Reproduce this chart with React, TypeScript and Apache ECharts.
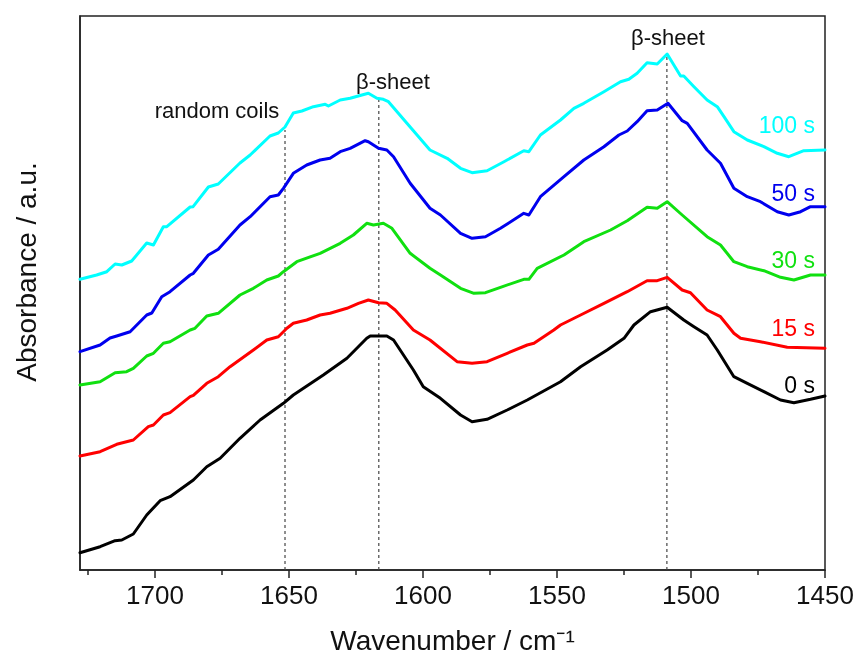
import React, { useEffect, useRef } from "react";
import * as echarts from "echarts";

// Wavenumber (cm^-1) / absorbance (a.u., offset-stacked) pairs
const s0: number[][] = [
  [1728, 0.173], [1720.5, 0.233], [1714.9, 0.293], [1712.4, 0.3], [1708.1, 0.36], [1703.1, 0.55],
  [1698.1, 0.693], [1694.4, 0.733], [1685.7, 0.9], [1680.7, 1.033], [1675.7, 1.117], [1668.3, 1.317],
  [1660.8, 1.5], [1652.1, 1.667], [1648.4, 1.75], [1637.2, 1.95], [1628.4, 2.117], [1621.0, 2.317],
  [1619.7, 2.34], [1613.5, 2.34], [1611.0, 2.3], [1603.6, 2.0], [1599.9, 1.833], [1593.5, 1.717],
  [1586.0, 1.55], [1581.7, 1.483], [1576.1, 1.507], [1568.6, 1.6], [1561.1, 1.7], [1548.7, 1.883],
  [1541.2, 2.033], [1531.3, 2.2], [1525.0, 2.317], [1521.3, 2.45], [1515.1, 2.583], [1508.9, 2.627],
  [1502.7, 2.5], [1498.9, 2.433], [1494.0, 2.35], [1490.2, 2.2], [1484.0, 1.933], [1479.0, 1.867],
  [1472.8, 1.783], [1466.6, 1.7], [1461.6, 1.673], [1455.4, 1.707], [1450, 1.74],
];
const s15: number[][] = [
  [1728, 1.14], [1720.5, 1.183], [1714.3, 1.257], [1708.1, 1.3], [1702.5, 1.433], [1700.6, 1.45],
  [1696.9, 1.55], [1694.4, 1.573], [1686.9, 1.733], [1685.7, 1.747], [1680.7, 1.867], [1676.4, 1.933],
  [1672.0, 2.033], [1663.3, 2.2], [1658.3, 2.3], [1654.0, 2.333], [1652.1, 2.383], [1650.8, 2.417],
  [1648.4, 2.467], [1643.4, 2.5], [1638.4, 2.55], [1634.7, 2.567], [1628.4, 2.617], [1624.1, 2.667],
  [1620.4, 2.7], [1616.6, 2.673], [1613.5, 2.667], [1610.4, 2.6], [1603.6, 2.4], [1597.4, 2.3],
  [1587.3, 2.083], [1581.7, 2.067], [1576.1, 2.083], [1568.6, 2.167], [1561.1, 2.25], [1558.6, 2.267],
  [1551.2, 2.4], [1548.7, 2.45], [1541.2, 2.55], [1532.5, 2.667], [1523.8, 2.783], [1516.4, 2.893],
  [1512.6, 2.893], [1508.9, 2.927], [1503.3, 2.8], [1500.2, 2.773], [1494.0, 2.6], [1489.0, 2.533],
  [1486.5, 2.45], [1484.0, 2.367], [1481.5, 2.317], [1474.1, 2.283], [1464.1, 2.227], [1450, 2.217],
];
const s30: number[][] = [
  [1728, 1.85], [1720.5, 1.883], [1714.9, 1.973], [1710.6, 1.983], [1708.1, 2.017], [1703.1, 2.14],
  [1700.6, 2.167], [1696.9, 2.267], [1694.4, 2.283], [1686.9, 2.4], [1685.1, 2.417], [1680.7, 2.54],
  [1676.4, 2.567], [1668.3, 2.75], [1663.3, 2.817], [1658.3, 2.9], [1654.0, 2.94], [1652.1, 2.983],
  [1647.1, 3.083], [1638.4, 3.167], [1630.9, 3.267], [1626.0, 3.35], [1621.0, 3.467], [1618.5, 3.45],
  [1614.8, 3.467], [1611.6, 3.417], [1604.8, 3.167], [1597.4, 3.017], [1593.5, 2.95], [1586.0, 2.817],
  [1581.0, 2.767], [1576.7, 2.773], [1571.1, 2.827], [1562.4, 2.907], [1560.5, 2.907], [1557.4, 3.017],
  [1547.4, 3.15], [1540.0, 3.283], [1530.0, 3.4], [1523.8, 3.493], [1516.4, 3.627], [1512.6, 3.617],
  [1508.9, 3.683], [1503.3, 3.55], [1494.0, 3.333], [1489.0, 3.25], [1484.0, 3.083], [1479.0, 3.033],
  [1472.8, 2.993], [1466.6, 2.927], [1461.6, 2.9], [1455.4, 2.95], [1450, 2.95],
];
const s50: number[][] = [
  [1728, 2.183], [1720.5, 2.25], [1716.8, 2.32], [1714.3, 2.34], [1709.3, 2.383], [1703.1, 2.55],
  [1701.2, 2.57], [1697.5, 2.733], [1694.4, 2.783], [1686.9, 2.95], [1685.7, 2.967], [1680.1, 3.15],
  [1676.4, 3.207], [1668.3, 3.45], [1664.5, 3.533], [1657.1, 3.733], [1654.0, 3.75], [1652.1, 3.817],
  [1648.4, 3.967], [1643.4, 4.05], [1638.4, 4.1], [1634.7, 4.117], [1630.9, 4.183], [1627.2, 4.217],
  [1621.6, 4.293], [1620.4, 4.283], [1616.6, 4.217], [1613.5, 4.2], [1611.0, 4.133], [1604.8, 3.867],
  [1597.4, 3.617], [1593.5, 3.55], [1586.0, 3.367], [1581.7, 3.317], [1576.7, 3.333], [1571.1, 3.417],
  [1562.4, 3.567], [1560.5, 3.55], [1556.2, 3.733], [1547.4, 3.933], [1540.0, 4.1], [1532.5, 4.233],
  [1526.9, 4.35], [1523.8, 4.39], [1520.1, 4.483], [1516.4, 4.593], [1512.6, 4.6], [1508.6, 4.667],
  [1503.3, 4.493], [1501.4, 4.467], [1494.0, 4.2], [1489.0, 4.067], [1484.0, 3.817], [1479.0, 3.733],
  [1474.1, 3.683], [1467.8, 3.583], [1463.5, 3.55], [1459.1, 3.583], [1455.4, 3.633], [1450, 3.633],
];
const s100: number[][] = [
  [1728, 2.907], [1721.8, 2.95], [1718.0, 2.983], [1714.9, 3.06], [1712.4, 3.05], [1708.7, 3.09],
  [1703.1, 3.27], [1700.6, 3.25], [1696.9, 3.433], [1695.6, 3.433], [1686.9, 3.63], [1685.8, 3.633],
  [1680.1, 3.83], [1676.4, 3.86], [1668.3, 4.07], [1664.5, 4.15], [1657.1, 4.34], [1654.0, 4.37],
  [1651.5, 4.43], [1648.4, 4.57], [1645.2, 4.59], [1640.9, 4.633], [1636.5, 4.657], [1635.3, 4.64],
  [1630.9, 4.7], [1627.2, 4.717], [1622.8, 4.75], [1620.4, 4.767], [1617.2, 4.717], [1614.8, 4.707],
  [1612.9, 4.683], [1606.0, 4.467], [1597.4, 4.2], [1591.0, 4.117], [1586.0, 4.017], [1581.7, 3.973],
  [1576.1, 3.993], [1569.8, 4.083], [1562.4, 4.193], [1560.5, 4.183], [1556.2, 4.35], [1548.7, 4.5],
  [1543.7, 4.617], [1540.0, 4.667], [1532.5, 4.783], [1526.3, 4.883], [1523.2, 4.907], [1520.1, 4.967],
  [1516.4, 5.073], [1512.6, 5.06], [1508.9, 5.16], [1503.9, 4.94], [1502.7, 4.94], [1498.9, 4.833],
  [1494.0, 4.7], [1490.2, 4.633], [1487.7, 4.533], [1484.0, 4.383], [1479.0, 4.3], [1472.8, 4.233],
  [1467.8, 4.167], [1463.5, 4.133], [1457.9, 4.193], [1450, 4.2],
];

const seriesNames = ["0 s", "15 s", "30 s", "50 s", "100 s"];
const seriesColors = ["#000000", "#ff0000", "#10e010", "#0000ee", "#00ffff"];
const seriesData = [s0, s15, s30, s50, s100];

// Band markers (dashed verticals)
const markerX = [1651.5, 1616.5, 1509];
const markerTop = [4.4, 4.7, 5.15];
const markerText = ["random coils", "β-sheet", "β-sheet"];

const majorTicks = [1700, 1650, 1600, 1550, 1500, 1450];
const minorTicks = [1725, 1675, 1625, 1575, 1525, 1475];

const X_MIN = 1450;
const X_MAX = 1728;
const Y_MIN = 0;
const Y_MAX = 5.54;

const FONT = "'Liberation Sans', Arial, sans-serif";

export default function App() {
  const ref = useRef<HTMLDivElement>(null);
  useEffect(() => {
    if (!ref.current) return;
    const chart = echarts.init(ref.current, null, { renderer: "svg" });
    const gridLeft = 80;
    const gridTop = 16;
    const gridW = 745;
    const gridH = 554;

    const lineSeries: any[] = seriesData.map((d, i) => ({
      type: "line",
      name: seriesNames[i],
      data: d,
      showSymbol: false,
      symbol: "none",
      lineStyle: { color: seriesColors[i], width: 3, cap: "round", join: "round" },
      z: 3,
      silent: true,
    }));

    const markerSeries: any[] = markerX.map((x, i) => ({
      type: "line",
      data: [
        [x, Y_MIN],
        [x, markerTop[i]],
      ],
      showSymbol: false,
      symbol: "none",
      lineStyle: { color: "#444", width: 1.2, type: [3, 3] },
      z: 2,
      silent: true,
    }));

    const nameLabelY = [385, 328, 260, 193, 125];
    const annotPos = [
      [217, 110],
      [393, 81],
      [668, 37],
    ];

    chart.setOption({
      animation: false,
      grid: {
        left: gridLeft,
        top: gridTop,
        width: gridW,
        height: gridH,
        show: true,
        borderColor: "#222",
        borderWidth: 1.5,
        backgroundColor: "transparent",
      },
      xAxis: [
        {
          type: "value",
          min: X_MIN,
          max: X_MAX,
          inverse: true,
          position: "bottom",
          axisLine: { show: true, onZero: false, lineStyle: { color: "#222", width: 1.5 } },
          axisTick: {
            show: true,
            length: 8,
            inside: false,
            customValues: majorTicks,
            lineStyle: { color: "#222", width: 1.5 },
          },
          axisLabel: {
            show: true,
            customValues: majorTicks,
            formatter: (v: number) => String(v),
            fontSize: 26,
            fontFamily: FONT,
            color: "#111",
            margin: 12,
          },
          splitLine: { show: false },
          name: "Wavenumber / cm⁻¹",
          nameLocation: "middle",
          nameGap: 56,
          nameTextStyle: { fontSize: 28, fontFamily: FONT, color: "#111" },
        },
        {
          type: "value",
          min: X_MIN,
          max: X_MAX,
          inverse: true,
          position: "bottom",
          axisLine: { show: false, onZero: false },
          axisTick: {
            show: true,
            length: 5,
            customValues: minorTicks,
            lineStyle: { color: "#222", width: 1.5 },
          },
          axisLabel: { show: false },
          splitLine: { show: false },
        },
      ],
      yAxis: {
        type: "value",
        min: Y_MIN,
        max: Y_MAX,
        axisLine: { show: true, onZero: false, lineStyle: { color: "#222", width: 1.5 } },
        axisTick: { show: false },
        axisLabel: { show: false },
        splitLine: { show: false },
      },
      series: [...markerSeries, ...lineSeries],
      graphic: [
        {
          type: "text",
          x: 26,
          y: 272,
          rotation: Math.PI / 2,
          style: {
            text: "Absorbance / a.u.",
            fontSize: 28,
            fontFamily: FONT,
            fill: "#111",
            align: "center",
            verticalAlign: "middle",
          },
        },
        ...seriesNames.map((n, i) => ({
          type: "text",
          x: 815,
          y: nameLabelY[i],
          style: {
            text: n,
            fontSize: 23,
            fontFamily: FONT,
            fill: seriesColors[i],
            align: "right",
            verticalAlign: "middle",
          },
        })),
        ...markerText.map((t, i) => ({
          type: "text",
          x: annotPos[i][0],
          y: annotPos[i][1],
          style: {
            text: t,
            fontSize: 22,
            fontFamily: FONT,
            fill: "#111",
            align: "center",
            verticalAlign: "middle",
          },
        })),
      ],
    });
    return () => chart.dispose();
  }, []);
  return (
    <div
      ref={ref}
      style={{ position: "fixed", left: 0, top: 0, width: 857, height: 666 }}
    />
  );
}
